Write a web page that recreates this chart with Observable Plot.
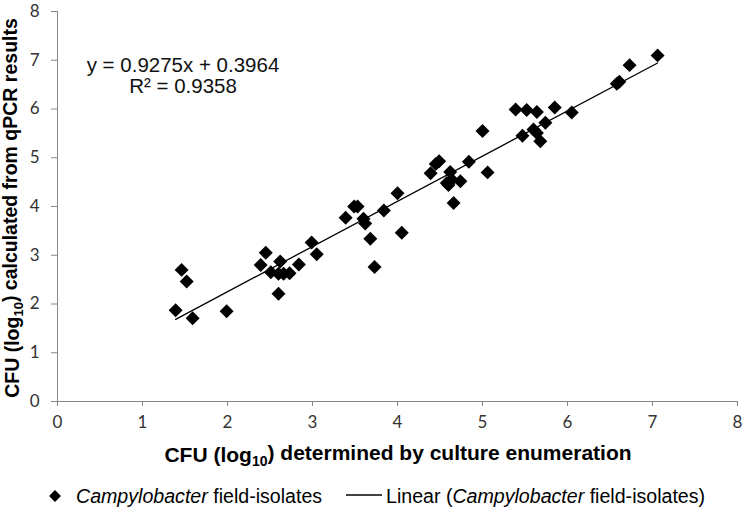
<!DOCTYPE html>
<html><head><meta charset="utf-8">
<script src="https://cdn.jsdelivr.net/npm/d3@7"></script>
<script src="https://cdn.jsdelivr.net/npm/@observablehq/plot@0.6"></script>
<style>body{margin:0;background:#fff} svg{display:block}</style>
</head><body><div id="chart"></div>
<script>
// CFU (log10) determined by culture enumeration
const cultureX = [1.39,1.46,1.52,1.59,1.99,2.39,2.45,2.51,2.60,2.62,2.60,2.66,2.73,2.84,2.99,3.05,
  3.39,3.49,3.53,3.60,3.62,3.68,3.73,3.84,4.00,4.05,4.39,4.45,4.49,4.62,4.58,4.64,4.74,4.60,4.66,
  4.84,5.06,5.00,5.39,5.52,5.64,5.85,6.05,5.74,5.60,5.64,5.47,5.68,6.58,6.61,6.73,7.06];
// CFU (log10) calculated from qPCR results
const qpcrY = [1.87,2.70,2.46,1.71,1.85,2.80,3.05,2.65,2.62,2.87,2.21,2.62,2.63,2.81,3.26,3.02,
  3.77,4.00,4.00,3.75,3.65,3.34,2.76,3.92,4.27,3.46,4.68,4.87,4.93,4.71,4.48,4.55,4.52,4.44,4.07,
  4.92,4.70,5.55,5.99,5.98,5.94,6.03,5.93,5.72,5.58,5.51,5.45,5.34,6.52,6.56,6.90,7.10];
const slope = 0.9275, intercept = 0.3964, rSquared = 0.9358;
const xTicks = [0,1,2,3,4,5,6,7,8];
const yTicks = [0,1,2,3,4,5,6,7,8];
const genus = "Campylobacter", seriesRest = " field-isolates";

const points = cultureX.map((x, i) => ({x, y: qpcrY[i]}));
const fitLine = d3.extent(cultureX).map(x => ({x, y: slope * x + intercept}));

const axisGray = "#868686";
const chart = Plot.plot({
  width: 747, height: 515,
  marginLeft: 57, marginRight: 10, marginTop: 11, marginBottom: 114,
  style: {fontFamily: "Lato, 'Open Sans', sans-serif", fontSize: "17px", color: "#333", background: "#fff"},
  x: {domain: [0, 8]},
  y: {domain: [0, 8]},
  marks: [
    Plot.axisX({ticks: xTicks, tickSize: 5, tickPadding: 9, stroke: axisGray, fill: "#333", label: null, tickFormat: d => d}),
    Plot.axisY({ticks: yTicks, tickSize: 6, tickPadding: 12, stroke: axisGray, fill: "#333", label: null, tickFormat: d => d}),
    Plot.ruleY([0], {stroke: axisGray}),
    Plot.ruleX([0], {stroke: axisGray}),
    Plot.line(fitLine, {x: "x", y: "y", stroke: "#000", strokeWidth: 1.3}),
    Plot.dot(points, {x: "x", y: "y", symbol: d3.symbolDiamond2, r: 6.3, fill: "#000"})
  ]
});
document.getElementById("chart").append(chart);

const svg = d3.select(chart);
const titleFont = "'Liberation Sans', Arial, sans-serif";

// x axis title
const xt = svg.append("text").attr("x", 398).attr("y", 462)
  .attr("text-anchor", "middle").attr("font-family", titleFont)
  .attr("font-weight", "bold").attr("font-size", 21).attr("fill", "#000");
xt.append("tspan").text("CFU (log");
xt.append("tspan").attr("font-size", 14).attr("dy", "0.3em").text("10");
xt.append("tspan").attr("dy", "-0.3em").text(") determined by culture enumeration");

// y axis title
const yt = svg.append("text").attr("transform", "translate(19,208) rotate(-90)")
  .attr("text-anchor", "middle").attr("font-family", titleFont)
  .attr("font-weight", "bold").attr("font-size", 19.5).attr("fill", "#000");
yt.append("tspan").text("CFU (log");
yt.append("tspan").attr("font-size", 13).attr("dy", "0.3em").text("10");
yt.append("tspan").attr("dy", "-0.3em").text(") calculated from qPCR results");

// regression equation
const eq = svg.append("text").attr("text-anchor", "middle").attr("font-family", titleFont)
  .attr("font-size", 20.5).attr("fill", "#111");
eq.append("tspan").attr("x", 183).attr("y", 72)
  .text(`y = ${slope}x + ${intercept}`);
eq.append("tspan").attr("x", 183).attr("y", 93)
  .text(`R² = ${rSquared}`);

// legend
const lg = svg.append("g").attr("font-family", titleFont).attr("font-size", 19.6)
  .attr("fill", "#000").attr("text-anchor", "start");
lg.append("path").attr("transform", "translate(55,496)")
  .attr("d", d3.symbol(d3.symbolDiamond2, 90)()).attr("fill", "#000");
const t1 = lg.append("text").attr("x", 76).attr("y", 503);
t1.append("tspan").attr("font-style", "italic").text(genus);
t1.append("tspan").text(seriesRest);
lg.append("line").attr("x1", 346).attr("x2", 382).attr("y1", 495).attr("y2", 495)
  .attr("stroke", "#000").attr("stroke-width", 1.3);
const t2 = lg.append("text").attr("x", 386).attr("y", 503);
t2.append("tspan").text("Linear (");
t2.append("tspan").attr("font-style", "italic").text(genus);
t2.append("tspan").text(seriesRest + ")");
</script>
</body></html>
